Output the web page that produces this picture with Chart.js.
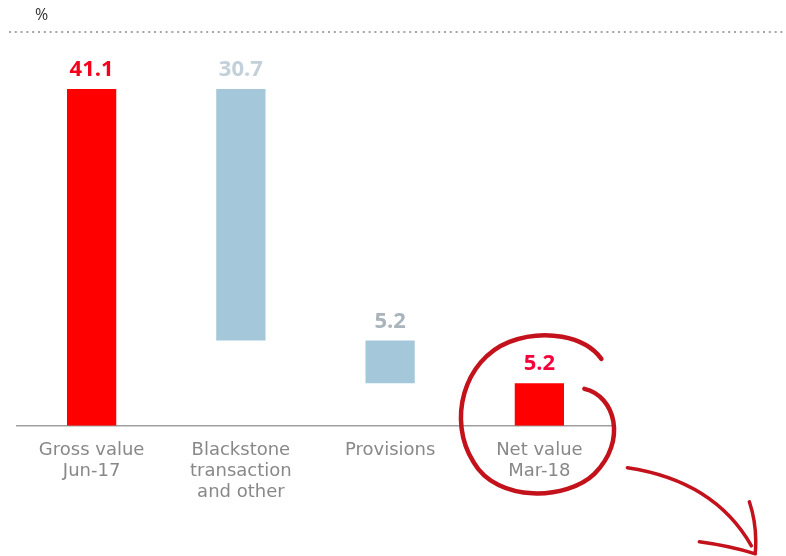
<!DOCTYPE html>
<html>
<head>
<meta charset="utf-8">
<script src="https://cdn.jsdelivr.net/npm/chart.js@4.4.1/dist/chart.umd.min.js"></script>
<style>
  body { margin: 0; background: #fff; }
  canvas { display: block; }
</style>
</head>
<body>
<canvas id="bar-chart" width="786" height="556"></canvas>
<script>
const categories = [['Gross value', 'Jun-17'], ['Blackstone', 'transaction', 'and other'], ['Provisions'], ['Net value', 'Mar-18']]
const changes = [41.1, -30.7, -5.2, 5.2]
const isTotal = [true, false, false, true]
const barColors = ['#ff0000', '#a4c7d9', '#a4c7d9', '#ff0000']
const labelColors = ['#f5001a', '#c3d0d9', '#a9b4bb', '#f5003a']

// floating ranges for the waterfall
let running = 0
const ranges = changes.map((v, i) => {
  if (isTotal[i]) {
    running = v
    return [0, v]
  }
  const start = running
  running = running + v
  return [start, running]
})

const decor = {
  id: 'decor',
  afterDraw(chart) {
    const ctx = chart.ctx
    ctx.save()
    // unit and dotted rule
    ctx.fillStyle = '#333'
    ctx.font = '16px "Open Sans"'
    ctx.textBaseline = 'middle'
    ctx.fillText('%', 35, 15)
    ctx.fillStyle = '#a5a5a5'
    for (let x = 9; x < 786; x += 5.8) {
      ctx.fillRect(x, 31, 2, 2)
    }

    // value labels
    const meta = chart.getDatasetMeta(0)
    ctx.font = 'bold 22px "Open Sans"'
    ctx.textAlign = 'center'
    ctx.textBaseline = 'bottom'
    meta.data.forEach((bar, i) => {
      const top = Math.min(bar.y, bar.base)
      ctx.fillStyle = labelColors[i]
      ctx.fillText(Math.abs(changes[i]).toFixed(1), bar.x, top - 8)
    })

    // hand-drawn circle and arrow round the last bar
    const cx = chart.scales.x.getPixelForValue(3)
    const cy = chart.scales.y.getPixelForValue(0)
    const p = (dx, dy) => [cx + dx, cy + dy]
    ctx.strokeStyle = '#c3121b'
    ctx.lineCap = 'round'
    ctx.lineWidth = 4.5
    ctx.beginPath()
    ctx.moveTo(...p(45, -37))
    ctx.bezierCurveTo(...p(76, -30), ...p(88, 15), ...p(55, 48))
    ctx.bezierCurveTo(...p(28, 74), ...p(-42, 78), ...p(-66, 36))
    ctx.bezierCurveTo(...p(-92, -5), ...p(-76, -66), ...p(-30, -84))
    ctx.bezierCurveTo(...p(5, -97), ...p(45, -90), ...p(62, -67))
    ctx.stroke()

    ctx.lineWidth = 3.5
    ctx.beginPath()
    ctx.moveTo(...p(88, 42))
    ctx.quadraticCurveTo(...p(175, 55), ...p(212, 120))
    ctx.stroke()
    ctx.beginPath()
    ctx.moveTo(...p(210, 76))
    ctx.quadraticCurveTo(...p(218, 100), ...p(216, 126))
    ctx.moveTo(...p(160, 116))
    ctx.quadraticCurveTo(...p(190, 120), ...p(216, 128))
    ctx.stroke()
    ctx.restore()
  }
}

new Chart(document.getElementById('bar-chart'), {
  type: 'bar',
  data: {
    labels: categories,
    datasets: [{
      data: ranges,
      backgroundColor: barColors,
      borderSkipped: false,
      barPercentage: 1,
      categoryPercentage: 0.33
    }]
  },
  options: {
    responsive: false,
    animation: false,
    layout: { padding: { left: 17, right: 172, top: 57, bottom: 47 } },
    plugins: {
      legend: { display: false },
      tooltip: { enabled: false }
    },
    scales: {
      x: {
        grid: { display: false },
        border: { display: true, color: '#a0a0a0', width: 1.5 },
        ticks: {
          color: '#888888',
          font: { family: 'DejaVu Sans', size: 18, lineHeight: 1.17 },
          padding: 6,
          maxRotation: 0,
          autoSkip: false
        }
      },
      y: {
        display: false,
        min: 0,
        max: 45
      }
    }
  },
  plugins: [decor]
})
</script>
</body>
</html>
